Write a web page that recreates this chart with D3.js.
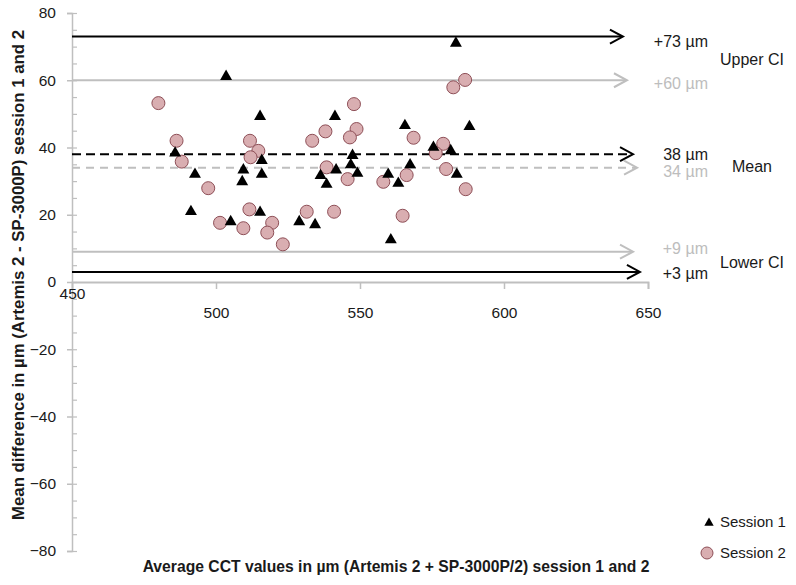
<!DOCTYPE html>
<html>
<head>
<meta charset="utf-8">
<script src="https://cdn.jsdelivr.net/npm/d3@7"></script>
<style>
  html, body { margin: 0; padding: 0; background: #fff; }
  svg { display: block; font-family: "Liberation Sans", Arial, sans-serif; }
</style>
</head>
<body>
<svg id="chart" width="796" height="585"></svg>
<script>
// ---- Data ----
const session1X = [503.5, 515.3, 485.8, 492.7, 491.3, 505.1, 515.9, 509.5, 509.1, 515.9,
                   515.3, 528.9, 534.4, 536.3, 541.7, 538.4, 547.4, 546.8, 549.1, 541.3,
                   559.8, 563.3, 560.7, 565.6, 567.4, 588.0, 575.5, 581.5, 583.6, 583.3];
const session1Y = [61.6, 49.7, 38.8, 32.5, 21.4, 18.4, 36.6, 33.8, 30.3, 32.5,
                   21.2, 18.4, 17.5, 32.1, 33.8, 29.5, 38.1, 35.3, 32.8, 49.7,
                   32.5, 29.8, 13.0, 47.0, 35.3, 46.7, 40.5, 39.5, 32.5, 71.5];
const session2X = [480.0, 486.3, 488.1, 497.3, 501.4, 509.5, 511.8, 514.7, 512.0, 511.6,
                   519.5, 517.8, 523.2, 531.5, 541.0, 538.4, 545.7, 558.1, 547.9, 538.0,
                   533.4, 548.8, 546.5, 568.6, 566.2, 564.8, 582.4, 586.5, 578.9, 576.3,
                   579.9, 586.7];
const session2Y = [53.2, 42.0, 35.8, 27.9, 17.6, 16.0, 42.0, 39.0, 37.1, 21.6,
                   17.6, 14.7, 11.2, 20.9, 20.9, 34.1, 30.6, 29.8, 52.9, 44.8,
                   42.0, 45.5, 43.0, 42.9, 31.8, 19.7, 57.9, 60.1, 41.1, 38.3,
                   33.6, 27.6];

// Reference lines (limits of agreement and mean) per session
const refValues  = [73, 60, 38, 34, 9, 3];
const refLabels  = ["+73 µm", "+60 µm", "38 µm", "34 µm", "+9 µm", "+3 µm"];
const refLabelAt = [71.5, 59.2, 37.8, 32.8, 10.1, 2.7];
const refSession = [1, 2, 1, 2, 2, 1];
const refKind    = ["limit", "limit", "mean", "mean", "limit", "limit"];
const refEndX    = [641.3, 642.7, 644.8, 646.2, 644.8, 647.2];

const groupNames  = ["Upper CI", "Mean", "Lower CI"];
const groupValues = [66.3, 34.3, 5.7];

const xTicks = [450, 500, 550, 600, 650];
const yTicks = [-80, -60, -40, -20, 0, 20, 40, 60, 80];
const yMinorTicks = d3.range(-80, 81, 5);

const legendLabels = ["Session 1", "Session 2"];

const xTitle = "Average CCT values in µm (Artemis 2 + SP-3000P/2) session 1 and 2";
const yTitle = "Mean difference in µm (Artemis 2 - SP-3000P) session 1 and 2";

// ---- Chart ----
const svg = d3.select("#chart");
const x = d3.scaleLinear().domain([450, 650]).range([72, 648]);
const y = d3.scaleLinear().domain([-80, 80]).range([551, 13]);

const axisColor = "#bfbfbf";
const textColor = "#1a1a1a";
const grayText = "#bdbdbd";
const pinkFill = "#d9aeb1";
const pinkStroke = "#8e4f57";

// y axis
const yAxisG = svg.append("g").attr("transform", `translate(${x(450)},0)`)
  .call(d3.axisLeft(y).tickValues(yTicks).tickSize(5).tickPadding(11)
    .tickFormat(d => d < 0 ? "\u2212" + Math.abs(d) : String(d)));
yAxisG.select(".domain").attr("stroke", axisColor).attr("stroke-width", 1.5);
yAxisG.selectAll(".tick line").attr("stroke", axisColor).attr("stroke-width", 1.5);
yAxisG.selectAll(".tick text").attr("fill", textColor).style("font-size", "15.5px")
  .style("font-family", "Liberation Sans, Arial, sans-serif");

const yMinorG = svg.append("g").attr("transform", `translate(${x(450)},0)`)
  .call(d3.axisRight(y).tickValues(yMinorTicks).tickSize(5).tickFormat(""));
yMinorG.select(".domain").remove();
yMinorG.selectAll(".tick line").attr("stroke", axisColor).attr("stroke-width", 1.2);

// x axis at y = 0
const xAxisG = svg.append("g").attr("transform", `translate(0,${y(0)})`)
  .call(d3.axisBottom(x).tickValues(xTicks).tickSize(7).tickPadding(18));
xAxisG.select(".domain").attr("stroke", axisColor).attr("stroke-width", 1.8);
xAxisG.selectAll(".tick line").attr("stroke", axisColor).attr("stroke-width", 1.5);
xAxisG.selectAll(".tick text").attr("fill", textColor).style("font-size", "15.5px")
  .style("font-family", "Liberation Sans, Arial, sans-serif");
xAxisG.selectAll(".tick").filter(d => d === 450).select("line").remove();
xAxisG.selectAll(".tick").filter(d => d === 450).select("text").attr("y", 6);

// reference arrows
const refData = refValues.map((v, i) => ({
  v, label: refLabels[i], labelAt: refLabelAt[i], session: refSession[i], kind: refKind[i], end: refEndX[i]
}));
const lineColor = d => d.session === 1 ? "#000000" : "#bfbfbf";

const refG = svg.append("g");
refG.selectAll("line.ref").data(refData).join("line")
  .attr("class", "ref")
  .attr("x1", x(450)).attr("x2", d => x(d.end) - 1)
  .attr("y1", d => y(d.v)).attr("y2", d => y(d.v))
  .attr("stroke", lineColor).attr("stroke-width", 2)
  .attr("stroke-dasharray", d => d.kind === "mean" ? (d.session === 1 ? "9,5" : "8,6") : null);
refG.selectAll("path.head").data(refData).join("path")
  .attr("class", "head")
  .attr("d", d => {
    const tx = x(d.end), ty = y(d.v);
    return `M${tx - 13},${ty - 7}L${tx},${ty}L${tx - 13},${ty + 7}`;
  })
  .attr("fill", "none").attr("stroke", lineColor).attr("stroke-width", 2);

// value labels
svg.selectAll("text.reflabel").data(refData).join("text")
  .attr("class", "reflabel")
  .attr("x", 708).attr("y", d => y(d.labelAt)).attr("dy", "0.35em")
  .attr("text-anchor", "end")
  .style("font-size", "16px")
  .attr("fill", d => d.session === 1 ? textColor : grayText)
  .text(d => d.label);

// group labels
svg.selectAll("text.grouplabel").data(groupNames).join("text")
  .attr("class", "grouplabel")
  .attr("x", 752).attr("y", (d, i) => y(groupValues[i])).attr("dy", "0.35em")
  .attr("text-anchor", "middle")
  .style("font-size", "16px").attr("fill", textColor)
  .text(d => d);

// points
const s1 = session1X.map((v, i) => ({ x: v, y: session1Y[i] }));
const s2 = session2X.map((v, i) => ({ x: v, y: session2Y[i] }));
const tri = d3.symbol().type(d3.symbolTriangle).size(62);

svg.append("g").selectAll("circle").data(s2).join("circle")
  .attr("cx", d => x(d.x)).attr("cy", d => y(d.y)).attr("r", 6.5)
  .attr("fill", pinkFill).attr("stroke", pinkStroke).attr("stroke-width", 1);
svg.append("g").selectAll("path").data(s1).join("path")
  .attr("d", tri)
  .attr("transform", d => `translate(${x(d.x)},${y(d.y) + 1.6})`)
  .attr("fill", "#000");

// legend
const legG = svg.append("g");
legG.append("path").attr("d", d3.symbol().type(d3.symbolTriangle).size(38))
  .attr("transform", "translate(709,523)").attr("fill", "#000");
legG.append("circle").attr("cx", 707).attr("cy", 553).attr("r", 6)
  .attr("fill", pinkFill).attr("stroke", pinkStroke).attr("stroke-width", 1);
legG.selectAll("text").data(legendLabels).join("text")
  .attr("x", 720).attr("y", (d, i) => i === 0 ? 522 : 553).attr("dy", "0.35em")
  .style("font-size", "15px").attr("fill", textColor).text(d => d);

// axis titles
svg.append("text").attr("x", 396).attr("y", 567).attr("dy", "0.35em")
  .attr("text-anchor", "middle").style("font-size", "15.7px").style("font-weight", "bold")
  .attr("fill", textColor).text(xTitle);
svg.append("text").attr("transform", "translate(18,275) rotate(-90)").attr("dy", "0.35em")
  .attr("text-anchor", "middle").style("font-size", "16.8px").style("font-weight", "bold")
  .attr("fill", textColor).text(yTitle);
</script>
</body>
</html>
